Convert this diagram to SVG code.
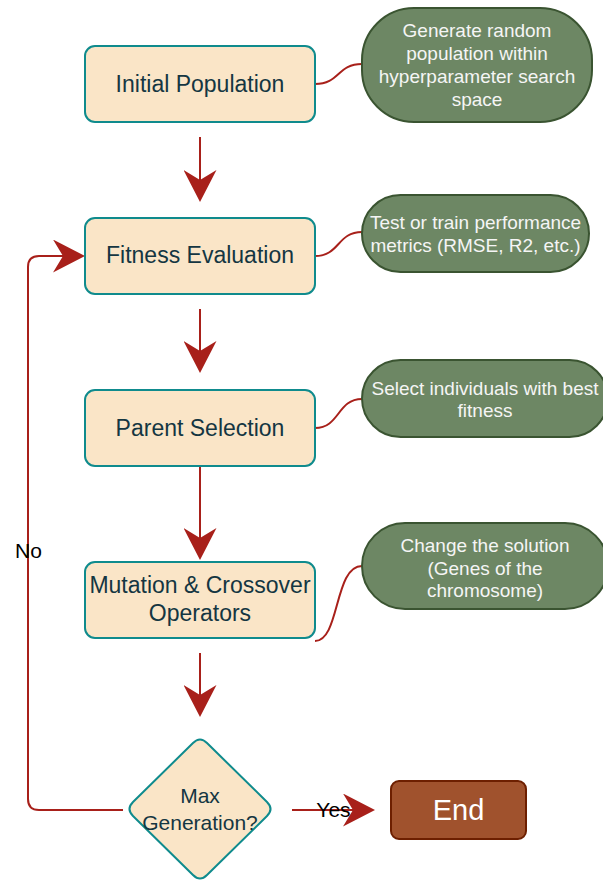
<svg xmlns="http://www.w3.org/2000/svg" width="603" height="880" viewBox="0 0 603 880">
<style>
.box{fill:#FAE5C7;stroke:#0F8B8D;stroke-width:2}
.btxt{font-family:"Liberation Sans",Arial,sans-serif;font-size:23px;fill:#143642;text-anchor:middle}
.note{fill:#6D8764;stroke:#3A5431;stroke-width:2}
.ntxt{font-family:"Liberation Sans",Arial,sans-serif;font-size:19px;fill:#F5F5F5;text-anchor:middle}
.edge{fill:none;stroke:#A8201A;stroke-width:2}
.lbl{font-family:"Liberation Sans",Arial,sans-serif;font-size:21px;fill:#000000;text-anchor:middle}
</style>
<defs>
<marker id="arr" viewBox="0 0 32 33" refX="10" refY="16.5" markerWidth="32" markerHeight="33" markerUnits="userSpaceOnUse" orient="auto">
<path d="M0,0 L32,16.5 L0,33 L10,16.5 Z" fill="#A8201A"/>
</marker>
</defs>
<g id="connectors">
<path class="edge" d="M200,137 L200,180" marker-end="url(#arr)"/>
<path class="edge" d="M200,309 L200,351" marker-end="url(#arr)"/>
<path class="edge" d="M200,466 L200,538" marker-end="url(#arr)"/>
<path class="edge" d="M200,653 L200,695" marker-end="url(#arr)"/>
<path class="edge" d="M292,810 L353,810" marker-end="url(#arr)"/>
<path class="edge" d="M123,810 L39,810 Q28,810 28,799 L28,267 Q28,256 39,256 L63,256" marker-end="url(#arr)"/>
<path class="edge" d="M315,84 C340,84 337,64 362,64"/>
<path class="edge" d="M315,256 C340,256 337,232 362,232"/>
<path class="edge" d="M315,428 C340,428 337,399 362,399"/>
<path class="edge" d="M315,641 C340,641 334,566 362,566"/>
<text class="lbl" x="28.5" y="558">No</text>
<text class="lbl" x="333.5" y="817">Yes</text>
</g>
<g id="initial-population">
<rect class="box" x="85" y="46" width="230" height="76" rx="10"/>
<text class="btxt" x="200" y="92">Initial Population</text>
</g>
<g id="fitness-evaluation">
<rect class="box" x="85" y="218" width="230" height="76" rx="10"/>
<text class="btxt" x="200" y="263">Fitness Evaluation</text>
</g>
<g id="parent-selection">
<rect class="box" x="85" y="390" width="230" height="76" rx="10"/>
<text class="btxt" x="200" y="436">Parent Selection</text>
</g>
<g id="mutation-crossover">
<rect class="box" x="85" y="562" width="230" height="76" rx="10"/>
<text class="btxt" x="200" y="593">Mutation &amp; Crossover</text>
<text class="btxt" x="200" y="621">Operators</text>
</g>
<g id="max-generation">
<path class="box" d="M207,743 L267,802 Q274,809 267,816 L207,875 Q200,882 193,875 L133,816 Q126,809 133,802 L193,743 Q200,736 207,743 Z"/>
<text class="btxt" style="font-size:21px" x="200" y="803">Max</text>
<text class="btxt" style="font-size:21px" x="200" y="830">Generation?</text>
</g>
<g id="end">
<rect x="391" y="781" width="135" height="58" rx="8" fill="#A0522D" stroke="#6D1F00" stroke-width="2"/>
<text x="458.5" y="820" font-family="'Liberation Sans',Arial,sans-serif" font-size="29" fill="#FFFFFF" text-anchor="middle">End</text>
</g>
<g id="note-generate">
<rect class="note" x="362" y="8" width="230" height="114" rx="52" ry="52"/>
<text class="ntxt" x="477" y="37">Generate random</text>
<text class="ntxt" x="477" y="60">population within</text>
<text class="ntxt" x="477" y="83">hyperparameter search</text>
<text class="ntxt" x="477" y="106">space</text>
</g>
<g id="note-metrics">
<rect class="note" x="362" y="195" width="227" height="77" rx="38.5"/>
<text class="ntxt" x="475.5" y="229">Test or train performance</text>
<text class="ntxt" x="475.5" y="252">metrics (RMSE, R2, etc.)</text>
</g>
<g id="note-select">
<rect class="note" x="362" y="360" width="246" height="77" rx="38.5"/>
<text class="ntxt" x="485" y="395">Select individuals with best</text>
<text class="ntxt" x="485" y="417">fitness</text>
</g>
<g id="note-change">
<rect class="note" x="362" y="523" width="246" height="86" rx="43"/>
<text class="ntxt" x="485" y="552">Change the solution</text>
<text class="ntxt" x="485" y="575">(Genes of the</text>
<text class="ntxt" x="485" y="597">chromosome)</text>
</g>
</svg>
